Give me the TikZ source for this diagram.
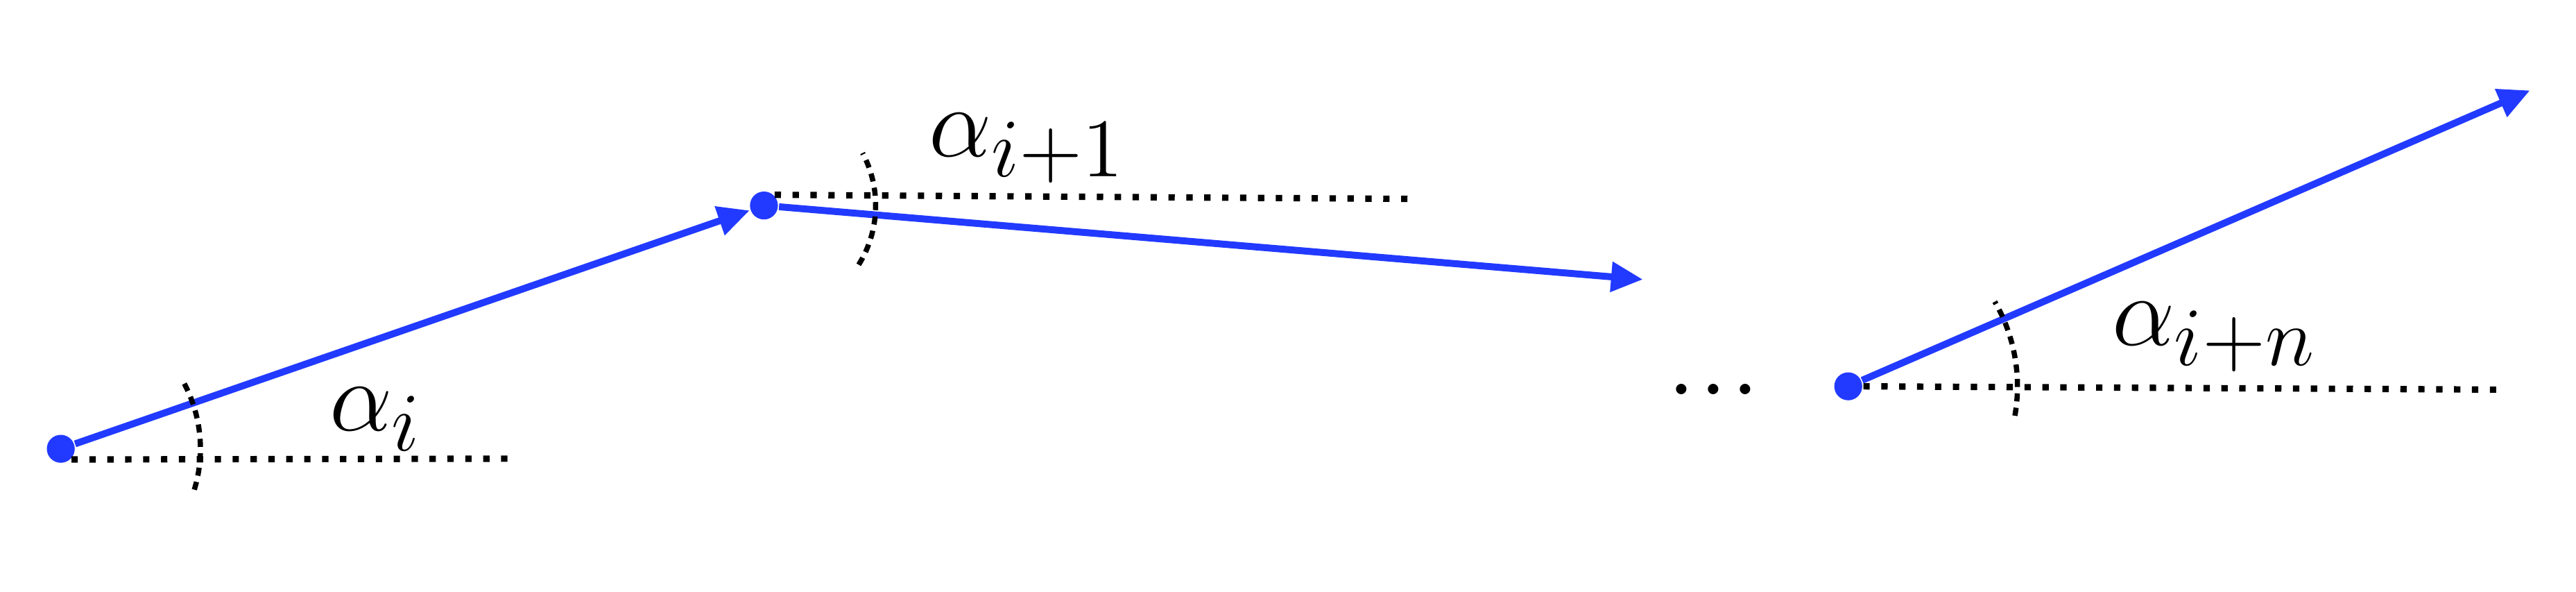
\documentclass[tikz,border=0pt]{standalone}
\usepackage{amsmath}
\usepackage{amssymb}
\usetikzlibrary{arrows.meta}
\definecolor{vecblue}{RGB}{34,58,255}

\begin{document}
\begin{tikzpicture}[
    pt/.style={circle, fill=vecblue, inner sep=0pt, minimum size=1.7mm},
    vec/.style={vecblue, line width=1.2pt, -{Triangle[length=5.5pt, width=5pt]}},
    ref/.style={line width=1.1pt, dash pattern=on 1.1pt off 2pt},
    ang/.style={line width=0.9pt, dash pattern=on 1.4pt off 1.1pt},
    lbl/.style={anchor=base west, inner sep=0pt, font=\fontsize{19}{23}\selectfont}
  ]
    \useasboundingbox (0,0) rectangle (15.68,3.60);

    \node[pt] (1) at (0.37,0.87) {};
    \node[pt] (2) at (4.65,2.35) {};
    \node[pt] (3) at (11.25,1.25) {};
    \coordinate (2e) at (10.00,1.90);
    \coordinate (3e) at (15.40,3.05);
    \coordinate (1r) at (3.15,0.81);
    \coordinate (2r) at (8.60,2.39);
    \coordinate (3r) at (15.20,1.23);

    \draw[ref] (1.south east) -- (1r);
    \draw[ref] (2.north east) -- (2r);
    \draw[ref] (3.east) -- (3r);

    \draw[vec] (1) -- (2);
    \draw[vec] (2) -- (2e);
    \draw[vec] (3) -- (3e);

    \draw[ang] (1) ++(-17:0.85) arc[start angle=-17, end angle=30, radius=0.85];
    \draw[ang] (2) ++(-32:0.68) arc[start angle=-32, end angle=28, radius=0.68];
    \draw[ang] (3) ++(-10:1.03) arc[start angle=-10, end angle=30, radius=1.03];

    \node[lbl] (a1) at (2.00,0.98) {$\alpha_i$};
    \node[lbl] (a2) at (5.65,2.65) {$\alpha_{i+1}$};
    \node[lbl] (a3) at (12.85,1.50) {$\alpha_{i+n}$};
    \node[font=\fontsize{22}{26}\selectfont, anchor=base] (dots) at (10.43,1.20) {...};
  \end{tikzpicture}
\end{document}
